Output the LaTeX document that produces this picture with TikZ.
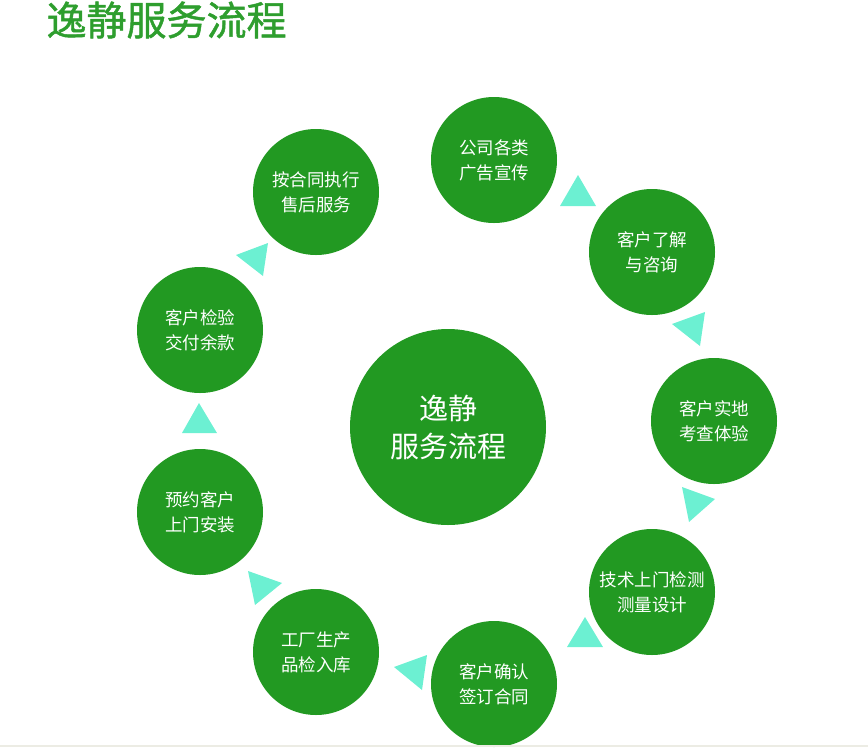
\documentclass[tikz,border=0pt]{standalone}
\usepackage{fontspec}
\setmainfont{Noto Sans CJK SC}
\newfontfamily\titlefont{Noto Sans CJK SC}[FakeBold=1.2]
\usepackage{xcolor}
\usetikzlibrary{positioning}
\definecolor{leafgreen}{RGB}{34,153,34}
\definecolor{titlegreen}{RGB}{46,158,46}
\definecolor{mintarrow}{RGB}{108,240,210}
\definecolor{rulegray}{RGB}{236,236,228}

\begin{document}
\begin{tikzpicture}[
    x=1pt, y=-1pt,
    stepcircle/.style={circle, fill=leafgreen, text=white, inner sep=0pt, minimum size=126pt, align=center, font=\fontsize{17.5}{25}\selectfont},
    hub/.style={circle, fill=leafgreen, text=white, inner sep=0pt, minimum size=196pt, align=center, font=\fontsize{29}{38}\selectfont},
    tri/.style={fill=mintarrow}
]
  \useasboundingbox (0,0) rectangle (868,748);
  \node[anchor=west, text=titlegreen, font=\titlefont\fontsize{40}{40}\selectfont] (title) at (43,20) {逸静服务流程};

  \node[hub] (center) at (448,427) {逸静\\服务流程};

  \node[stepcircle] (ad) at (494,160) {公司各类\\广告宣传};
  \node[stepcircle] (consult) at (652,252) {客户了解\\与咨询};
  \node[stepcircle] (visit) at (714,421) {客户实地\\考查体验};
  \node[stepcircle] (measure) at (652,592) {技术上门检测\\测量设计};
  \node[stepcircle] (sign) at (494,684) {客户确认\\签订合同};
  \node[stepcircle] (factory) at (316,652) {工厂生产\\品检入库};
  \node[stepcircle] (install) at (200,512) {预约客户\\上门安装};
  \node[stepcircle] (pay) at (200,330) {客户检验\\交付余款};
  \node[stepcircle] (service) at (316,192) {按合同执行\\售后服务};

  % triangles between the steps
  \fill[tri] (578,175) -- (596,206) -- (560,206) -- cycle;
  \fill[tri] (672,324) -- (705,312) -- (700,346) -- cycle;
  \fill[tri] (715,499) -- (689,522) -- (682,487) -- cycle;
  \fill[tri] (585,617) -- (603,647) -- (567,647) -- cycle;
  \fill[tri] (394,667) -- (427,655) -- (422,690) -- cycle;
  \fill[tri] (282,583) -- (255,605) -- (248,571) -- cycle;
  \fill[tri] (199,403) -- (217,433) -- (182,433) -- cycle;
  \fill[tri] (236,255) -- (268,243) -- (263,276) -- cycle;

  \draw[rulegray, line width=1.5pt] (0,746) -- (868,746);
\end{tikzpicture}
\end{document}
